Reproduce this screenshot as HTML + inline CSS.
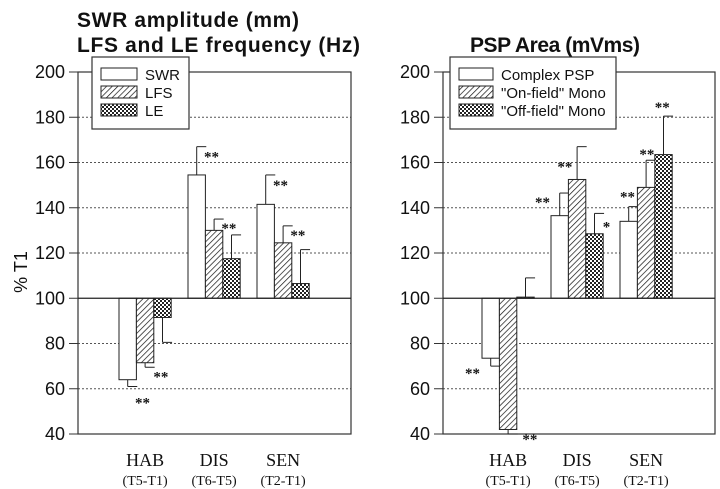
<!DOCTYPE html>
<html><head><meta charset="utf-8"><style>
body{margin:0;background:#fff;}
svg{display:block;}
text{font-family:"Liberation Sans",sans-serif;fill:#111;}
.serif{font-family:"Liberation Serif",serif;}
</style></head><body>
<svg id="fig" width="720" height="489" viewBox="0 0 720 489">
<defs>
<pattern id="hatch" width="4" height="4" patternUnits="userSpaceOnUse" patternTransform="rotate(45)">
<rect width="4" height="4" fill="#fff"/><line x1="0" y1="0" x2="0" y2="4" stroke="#111" stroke-width="1.4"/></pattern>
<pattern id="cross" width="4" height="4" patternUnits="userSpaceOnUse">
<rect width="4" height="4" fill="#fff"/><rect width="2" height="2" fill="#222"/><rect x="2" y="2" width="2" height="2" fill="#222"/></pattern>
</defs>
<text x="77" y="27" font-size="21" font-weight="bold" textLength="222">SWR amplitude (mm)</text>
<text x="77" y="52" font-size="21" font-weight="bold" textLength="283">LFS and LE frequency (Hz)</text>
<text x="470" y="52" font-size="21" font-weight="bold" textLength="170">PSP Area (mVms)</text>
<text transform="translate(27,272) rotate(-90)" font-size="18" text-anchor="middle">% T1</text>
<g id="left"></g>
<g id="right"></g>
</svg>
<script>
const categories = ["HAB","DIS","SEN"];
const subLabels = ["(T5-T1)","(T6-T5)","(T2-T1)"];
const yTicks = [40,60,80,100,120,140,160,180,200];
// left chart
const leftSeries = ["SWR","LFS","LE"];
const swrValues = [64,154.5,141.5];
const swrErr = [61,167,154.5];
const lfsValues = [71.5,130,124.5];
const lfsErr = [69.5,135,132];
const leValues = [91.5,117.5,106.5];
const leErr = [80.5,128,121.5];
const leftSig = [["**","**","**"],["**","**","**"],["","",""]];
// right chart
const rightSeries = ["Complex PSP","\"On-field\" Mono","\"Off-field\" Mono"];
const complexValues = [73.5,136.5,134];
const complexErr = [70,146.5,140.5];
const onValues = [42,152.5,149];
const onErr = [40,167,161];
const offValues = [100.5,128.5,163.5];
const offErr = [109,137.5,180.5];
const rightSig = [["**","**","**"],["**","**","**"],["","*","**"]];

// marker placement (layout only): [dx from bar left, dy from error end]
const leftMarkerLayout = [[[16,21],[16,15],[16,15]],[[17,14],[16,14],[16,14]],[[0,0],[0,0],[0,0]]];
const rightMarkerLayout = [[[-17,12],[-16,14],[0,-5]],[[23,10],[-11,25],[2,-1]],[[0,0],[17,18],[0,-4]]];

const NS="http://www.w3.org/2000/svg";
const fills=["#fff","url(#hatch)","url(#cross)"];
function mk(parent,tag,attrs,txt){const e=document.createElementNS(NS,tag);for(const k in attrs)e.setAttribute(k,attrs[k]);if(txt!==undefined)e.textContent=txt;parent.appendChild(e);return e;}

function drawChart(g,x0,x1,firstBar,legend,seriesNames,vals,errs,sig,layout,prefix){
  const yTop=72,yBot=434;
  const y=v=>yBot-(v-40)/160*(yBot-yTop);
  const bw=17.4, step=69;
  const bx=(c,s)=>firstBar+c*step+s*bw;
  yTicks.forEach(t=>{
    const l=mk(g,'line',{x1:x0-9,x2:x0,y1:y(t),y2:y(t),stroke:'#333','stroke-width':1});
    
    
    if(t!==40&&t!==100&&t!==200){
      const gl=mk(g,'line',{x1:x0,x2:x1,y1:y(t),y2:y(t),stroke:'#555','stroke-width':1,'stroke-dasharray':'2,2'});
      
      
    }
    const tx=mk(g,'text',{x:x0-13,y:y(t)+6,'font-size':18,'text-anchor':'end'},String(t));
    
    
  });
  const box=mk(g,'rect',{x:x0,y:yTop,width:x1-x0,height:yBot-yTop,fill:'none',stroke:'#333','stroke-width':1.2});
  
  
  for(let s=0;s<3;s++)for(let c=0;c<3;c++){
    const v=vals[s][c], e=errs[s][c];
    const xx=bx(c,s), top=Math.min(y(v),y(100)), h=Math.abs(y(v)-y(100));
    const cx=xx+bw/2;
    const el=mk(g,'line',{x1:cx,x2:cx,y1:y(v),y2:y(e),stroke:'#222','stroke-width':1});
    
    
    const ec=mk(g,'line',{x1:cx,x2:cx+bw*0.55,y1:y(e),y2:y(e),stroke:'#222','stroke-width':1});
    
    
    const r=mk(g,'rect',{x:xx,y:top,width:bw,height:Math.max(h,1),fill:fills[s],stroke:'#222','stroke-width':1});
    
    
  }
  for(let s=0;s<3;s++)for(let c=0;c<3;c++){
    if(!sig[s][c])continue;
    const e=errs[s][c], xx=bx(c,s), d=layout[s][c];
    const st=mk(g,'text',{x:xx+d[0],y:y(e)+d[1],'font-size':15,'font-weight':'bold','class':'serif'},sig[s][c]);
    
    
  }
  const base=mk(g,'line',{x1:x0,x2:x1,y1:y(100),y2:y(100),stroke:'#222','stroke-width':1.2});
  
  
  categories.forEach((cat,c)=>{
    const cx=bx(c,1)+bw/2;
    const t=mk(g,'text',{x:cx,y:466,'font-size':18,'text-anchor':'middle','class':'serif'},cat);
    
    
    const t2=mk(g,'text',{x:cx,y:485,'font-size':14,'text-anchor':'middle','class':'serif'},subLabels[c]);
    
    
  });
  const lg=mk(g,'g',{});
  
  
  const lb=mk(lg,'rect',{x:legend.x,y:57,width:legend.w,height:72,fill:'#fff',stroke:'#333','stroke-width':1.2});
  
  
  seriesNames.forEach((n,s)=>{
    const sw=mk(lg,'rect',{x:legend.x+9,y:68+s*18,width:legend.sw,height:12,fill:fills[s],stroke:'#222','stroke-width':1});
    
    
    const lt=mk(lg,'text',{x:legend.x+legend.sw+17,y:80+s*18,'font-size':15},n);
    
    
  });
}
drawChart(document.getElementById('left'),78,351,119,{x:92,w:97,sw:36},leftSeries,
  [swrValues,lfsValues,leValues],[swrErr,lfsErr,leErr],leftSig,leftMarkerLayout,'left');
drawChart(document.getElementById('right'),443,715,482,{x:450,w:166,sw:34},rightSeries,
  [complexValues,onValues,offValues],[complexErr,onErr,offErr],rightSig,rightMarkerLayout,'right');
</script>
</body></html>
